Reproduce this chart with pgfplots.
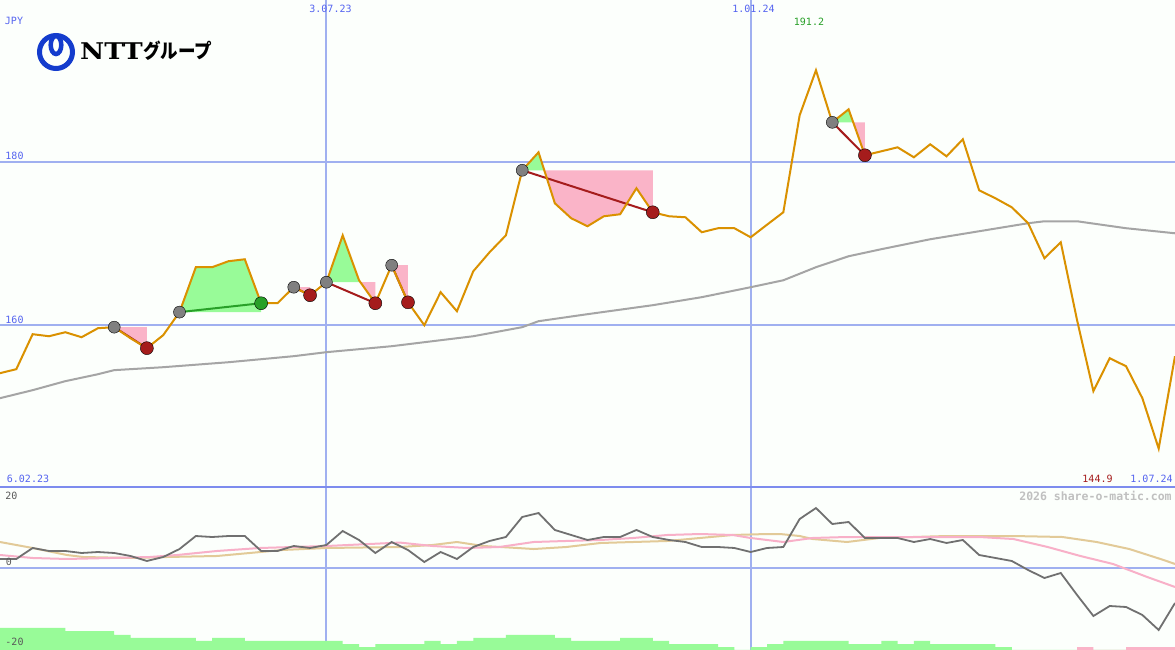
\documentclass[border=0pt]{standalone}
\usepackage{pgfplots}
\pgfplotsset{compat=1.18}
\usepackage{fontspec}
\setmainfont{DejaVu Sans Mono}
\newfontfamily\cjk{Noto Sans CJK JP}
\newfontfamily\logofont{DejaVu Serif}
\definecolor{bg}{RGB}{252,255,252}
\definecolor{gridblue}{RGB}{160,176,240}
\definecolor{gridlight}{RGB}{176,184,226}
\definecolor{sepblue}{RGB}{125,140,238}
\definecolor{lblblue}{RGB}{85,100,240}
\definecolor{pricec}{RGB}{218,145,0}
\definecolor{magray}{RGB}{165,165,165}
\definecolor{pinkf}{RGB}{250,180,200}
\definecolor{greenf}{RGB}{152,251,152}
\definecolor{dred}{RGB}{165,28,28}
\definecolor{dgreen}{RGB}{40,160,40}
\definecolor{circgray}{RGB}{128,128,128}
\definecolor{oscgray}{RGB}{112,112,112}
\definecolor{oscpink}{RGB}{248,176,200}
\definecolor{osctan}{RGB}{226,202,152}
\definecolor{logoblue}{RGB}{20,60,205}
\definecolor{wmgray}{RGB}{192,192,192}
\definecolor{lowlbl}{RGB}{90,90,90}
\pgfplotsset{
  panel/.style={
    scale only axis, anchor=south west, width=1175pt,
    xmin=0, xmax=72,
    axis line style={draw=none},
    major tick length=0pt,
    xticklabels={}, yticklabels={},
    xmajorgrids, ymajorgrids,
    major grid style={gridblue, line width=2pt},
    xtick={20}, extra x ticks={46}, extra x tick labels={},
    extra x tick style={grid style={gridlight, line width=1pt}},
  }
}
\begin{document}
\begin{tikzpicture}[x=1pt,y=1pt]
\fill[bg] (0pt,0pt) rectangle (1175pt,650pt);

% ---------------- main panel ----------------
\begin{axis}[panel, at={(0pt,163pt)}, height=487pt,
  ymin=140.2, ymax=199.8, ytick={160,180}]
% trade areas
\addplot[fill=pinkf, draw=none] coordinates {(7,159.76) (9,159.76) (9,157.19) (8,158.40)};
\addplot[fill=greenf, draw=none] coordinates {(11,161.60) (16,161.60) (16,162.69) (15,168.07) (14,167.83) (13,167.10) (12,167.10)};
\addplot[fill=pinkf, draw=none] coordinates {(18,164.65) (19,164.65) (19,163.67)};
\addplot[fill=greenf, draw=none] coordinates {(20,165.26) (21,171.00) (22,165.50) (22.085,165.26)};
\addplot[fill=pinkf, draw=none] coordinates {(22.085,165.26) (23,165.26) (23,162.69)};
\addplot[fill=pinkf, draw=none] coordinates {(24,167.34) (25,167.34) (25,162.80)};
\addplot[fill=greenf, draw=none] coordinates {(32,178.96) (33,181.16) (33.353,178.96)};
\addplot[fill=pinkf, draw=none] coordinates {(33.353,178.96) (40,178.96) (40,173.82) (39,176.76) (38,173.58) (37,173.33) (36,172.11) (35,173.09) (34,174.92)};
\addplot[fill=greenf, draw=none] coordinates {(51,184.83) (52,186.42) (52.283,184.83)};
\addplot[fill=pinkf, draw=none] coordinates {(52.283,184.83) (53,184.83) (53,180.80)};
% long moving average
\addplot[magray, line width=2pt] coordinates {(0,151.07) (2,152.05) (4,153.15) (6,154.0) (7,154.5) (10,154.86) (14,155.47) (18,156.21) (20,156.7) (24,157.43) (26,157.92) (29,158.65) (32,159.76) (33,160.49) (36,161.35) (40,162.45) (43,163.43) (46,164.65) (48,165.5) (50,167.1) (52,168.44) (54,169.3) (57,170.52) (60,171.5) (63,172.48) (64,172.72) (66,172.72) (69,171.87) (72,171.25)};
% signal circles
\addplot[only marks, mark=*, mark size=6pt, mark options={fill=circgray, draw=none}] coordinates {(7,159.76) (11,161.60) (18,164.65) (20,165.26) (24,167.34) (32,178.96) (51,184.83)};
\addplot[only marks, mark=*, mark size=6.5pt, mark options={fill=dred, draw=none}] coordinates {(9,157.19) (19,163.67) (23,162.69) (25,162.80) (40,173.82) (53,180.80)};
\addplot[only marks, mark=*, mark size=6.5pt, mark options={fill=dgreen, draw=none}] coordinates {(16,162.69)};
% trade links
\addplot[dred, line width=2pt] coordinates {(7,159.76) (9,157.19)};
\addplot[dgreen, line width=2pt] coordinates {(11,161.60) (16,162.69)};
\addplot[dred, line width=2pt] coordinates {(18,164.65) (19,163.67)};
\addplot[dred, line width=2pt] coordinates {(20,165.26) (23,162.69)};
\addplot[dred, line width=2pt] coordinates {(24,167.34) (25,162.80)};
\addplot[dred, line width=2pt] coordinates {(32,178.96) (40,173.82)};
\addplot[dred, line width=2pt] coordinates {(51,184.83) (53,180.80)};
% price
\addplot[pricec, line width=2pt] coordinates {(0,154.13) (1,154.62) (2,158.90) (3,158.65) (4,159.14) (5,158.53) (6,159.63) (7,159.76) (8,158.40) (9,157.19) (10,158.78) (11,161.60) (12,167.10) (13,167.10) (14,167.83) (15,168.07) (16,162.69) (17,162.69) (18,164.65) (19,163.67) (20,165.26) (21,171.00) (22,165.50) (23,162.69) (24,167.34) (25,162.80) (26,160.00) (27,164.04) (28,161.71) (29,166.60) (30,168.93) (31,171.00) (32,178.96) (33,181.16) (34,174.92) (35,173.09) (36,172.11) (37,173.33) (38,173.58) (39,176.76) (40,173.82) (41,173.33) (42,173.21) (43,171.38) (44,171.87) (45,171.87) (46,170.76) (47,172.30) (48,173.82) (49,185.69) (50,191.20) (51,184.83) (52,186.42) (53,180.80) (54,181.28) (55,181.77) (56,180.55) (57,182.14) (58,180.67) (59,182.75) (60,176.51) (61,175.53) (62,174.43) (63,172.48) (64,168.20) (65,170.15) (66,160.61) (67,151.93) (68,155.96) (69,154.98) (70,151.07) (71,144.90) (72,156.21)};
\end{axis}

% ---------------- lower panel ----------------
\begin{axis}[panel, at={(0pt,0pt)}, height=164pt,
  ymin=-20, ymax=20, ytick={0}]
\addplot[fill=greenf, draw=none, const plot] coordinates {(0,-20) (0,-14.63) (4,-15.37) (7,-16.34) (8,-17.07) (12,-17.80) (13,-17.07) (15,-17.80) (21,-18.54) (22,-19.27) (23,-18.54) (26,-17.80) (27,-18.54) (28,-17.80) (29,-17.07) (31,-16.34) (34,-17.07) (35,-17.80) (38,-17.07) (40,-17.80) (41,-18.54) (44,-19.27) (45,-20) (46,-19.27) (47,-18.54) (48,-17.80) (52,-18.54) (54,-17.80) (55,-18.54) (56,-17.80) (57,-18.54) (61,-19.27) (62,-20) (72,-20)};
\addplot[fill=pinkf, draw=none, const plot] coordinates {(66,-20) (66,-19.27) (67,-20) (69,-19.27) (72,-19.27) (72,-20)};
\addplot[osctan, line width=2pt] coordinates {(0,6.34) (2,4.88) (4.1,3.17) (5.1,2.68) (8.15,2.44) (10.2,2.68) (13.3,2.93) (15.3,3.66) (17.3,4.39) (20,4.88) (24.5,5.12) (26.5,5.61) (28,6.34) (29.6,5.37) (31.7,4.88) (32.7,4.63) (34.7,5.12) (36.8,6.10) (38.8,6.34) (40.9,6.59) (42.9,7.32) (44.9,8.05) (47,8.29) (47.8,8.29) (49,7.80) (49.8,7.07) (51.9,6.34) (53.9,7.32) (58,7.80) (62.1,7.80) (65.1,7.56) (67.2,6.34) (69.2,4.63) (71.3,1.95) (72,0.98)};
\addplot[oscpink, line width=2pt] coordinates {(0,3.17) (2,2.44) (4.1,2.20) (6.74,2.44) (9.19,2.68) (10.85,3.17) (13.3,4.15) (15.93,4.88) (20.04,5.37) (24.5,6.2) (26.5,5.37) (28.6,4.88) (30.6,5.12) (32.7,6.34) (34.7,6.59) (36.8,6.83) (38.8,7.32) (40.9,8.05) (42.9,8.29) (44.9,8.05) (46,7.32) (47,6.83) (48,6.34) (49.8,7.32) (51.9,7.56) (55.9,7.56) (60,7.56) (62.1,7.07) (64.2,5.12) (66.2,2.93) (68.2,0.98) (70.3,-2.20) (72,-4.63)};
\addplot[oscgray, line width=1.8pt] coordinates {(0,2.20) (1,2.20) (2,4.88) (3,4.15) (4,4.15) (5,3.66) (6,3.90) (7,3.66) (8,2.93) (9,1.71) (10,2.68) (11,4.63) (12,7.80) (13,7.56) (14,7.80) (15,7.80) (16,4.15) (17,4.15) (18,5.37) (19,4.88) (20,5.61) (21,9.02) (22,6.83) (23,3.66) (24,6.34) (25,4.39) (26,1.46) (27,3.90) (28,2.20) (29,5.12) (30,6.59) (31,7.56) (32,12.44) (33,13.41) (34,9.27) (35,8.05) (36,6.83) (37,7.56) (38,7.56) (39,9.27) (40,7.56) (41,6.83) (42,6.34) (43,5.12) (44,5.12) (45,4.88) (46,3.90) (47,4.88) (48,5.12) (49,11.95) (50,14.63) (51,10.73) (52,11.22) (53,7.32) (54,7.32) (55,7.32) (56,6.34) (57,7.07) (58,6.10) (59,6.83) (60,3.17) (61,2.44) (62,1.71) (63,-0.49) (64,-2.44) (65,-1.22) (66,-6.59) (67,-11.71) (68,-9.27) (69,-9.51) (70,-11.46) (71,-15.12) (72,-8.54)};
\end{axis}

% separator between panels
\draw[sepblue, line width=2pt] (0pt,163pt) -- (1175pt,163pt);

% ---------------- texts ----------------
\begin{scope}[every node/.style={inner sep=0pt, font=\fontsize{10}{10}\selectfont}]
\node[text=lblblue] at (14pt,629pt) {JPY};
\node[text=lblblue] at (14.5pt,494pt) {180};
\node[text=lblblue] at (14.5pt,330.5pt) {160};
\node[text=lblblue] at (330.5pt,641pt) {3.07.23};
\node[text=lblblue] at (753.5pt,641pt) {1.01.24};
\node[text=dgreen] at (809pt,628.5pt) {191.2};
\node[text=lblblue] at (28pt,171pt) {6.02.23};
\node[text=dred] at (1097.5pt,171pt) {144.9};
\node[text=lblblue] at (1151.5pt,171pt) {1.07.24};
\node[text=lowlbl] at (11.5pt,154pt) {20};
\node[text=lowlbl] at (9pt,88pt) {0};
\node[text=lowlbl] at (14.5pt,8pt) {-20};
\node[text=wmgray, font=\fontsize{11.5}{11.5}\selectfont\bfseries] at (1095.5pt,154pt) {2026 share-o-matic.com};
\end{scope}

% ---------------- logo ----------------
\draw[logoblue, line width=5pt] (56pt,598pt) circle (16.5pt);
\draw[logoblue, line width=4.5pt] (56pt,605pt) ellipse (5.3pt and 9pt);
\node[anchor=west, inner sep=0pt, xscale=1.15] at (80pt,599pt) {\logofont\bfseries\fontsize{23}{23}\selectfont NTT};
\node[anchor=west, inner sep=0pt, xscale=0.875] at (143pt,599pt) {\cjk\bfseries\fontsize{20}{20}\selectfont グループ};

\pgfresetboundingbox
\useasboundingbox (0pt,0pt) rectangle (1175pt,650pt);
\end{tikzpicture}
\end{document}
